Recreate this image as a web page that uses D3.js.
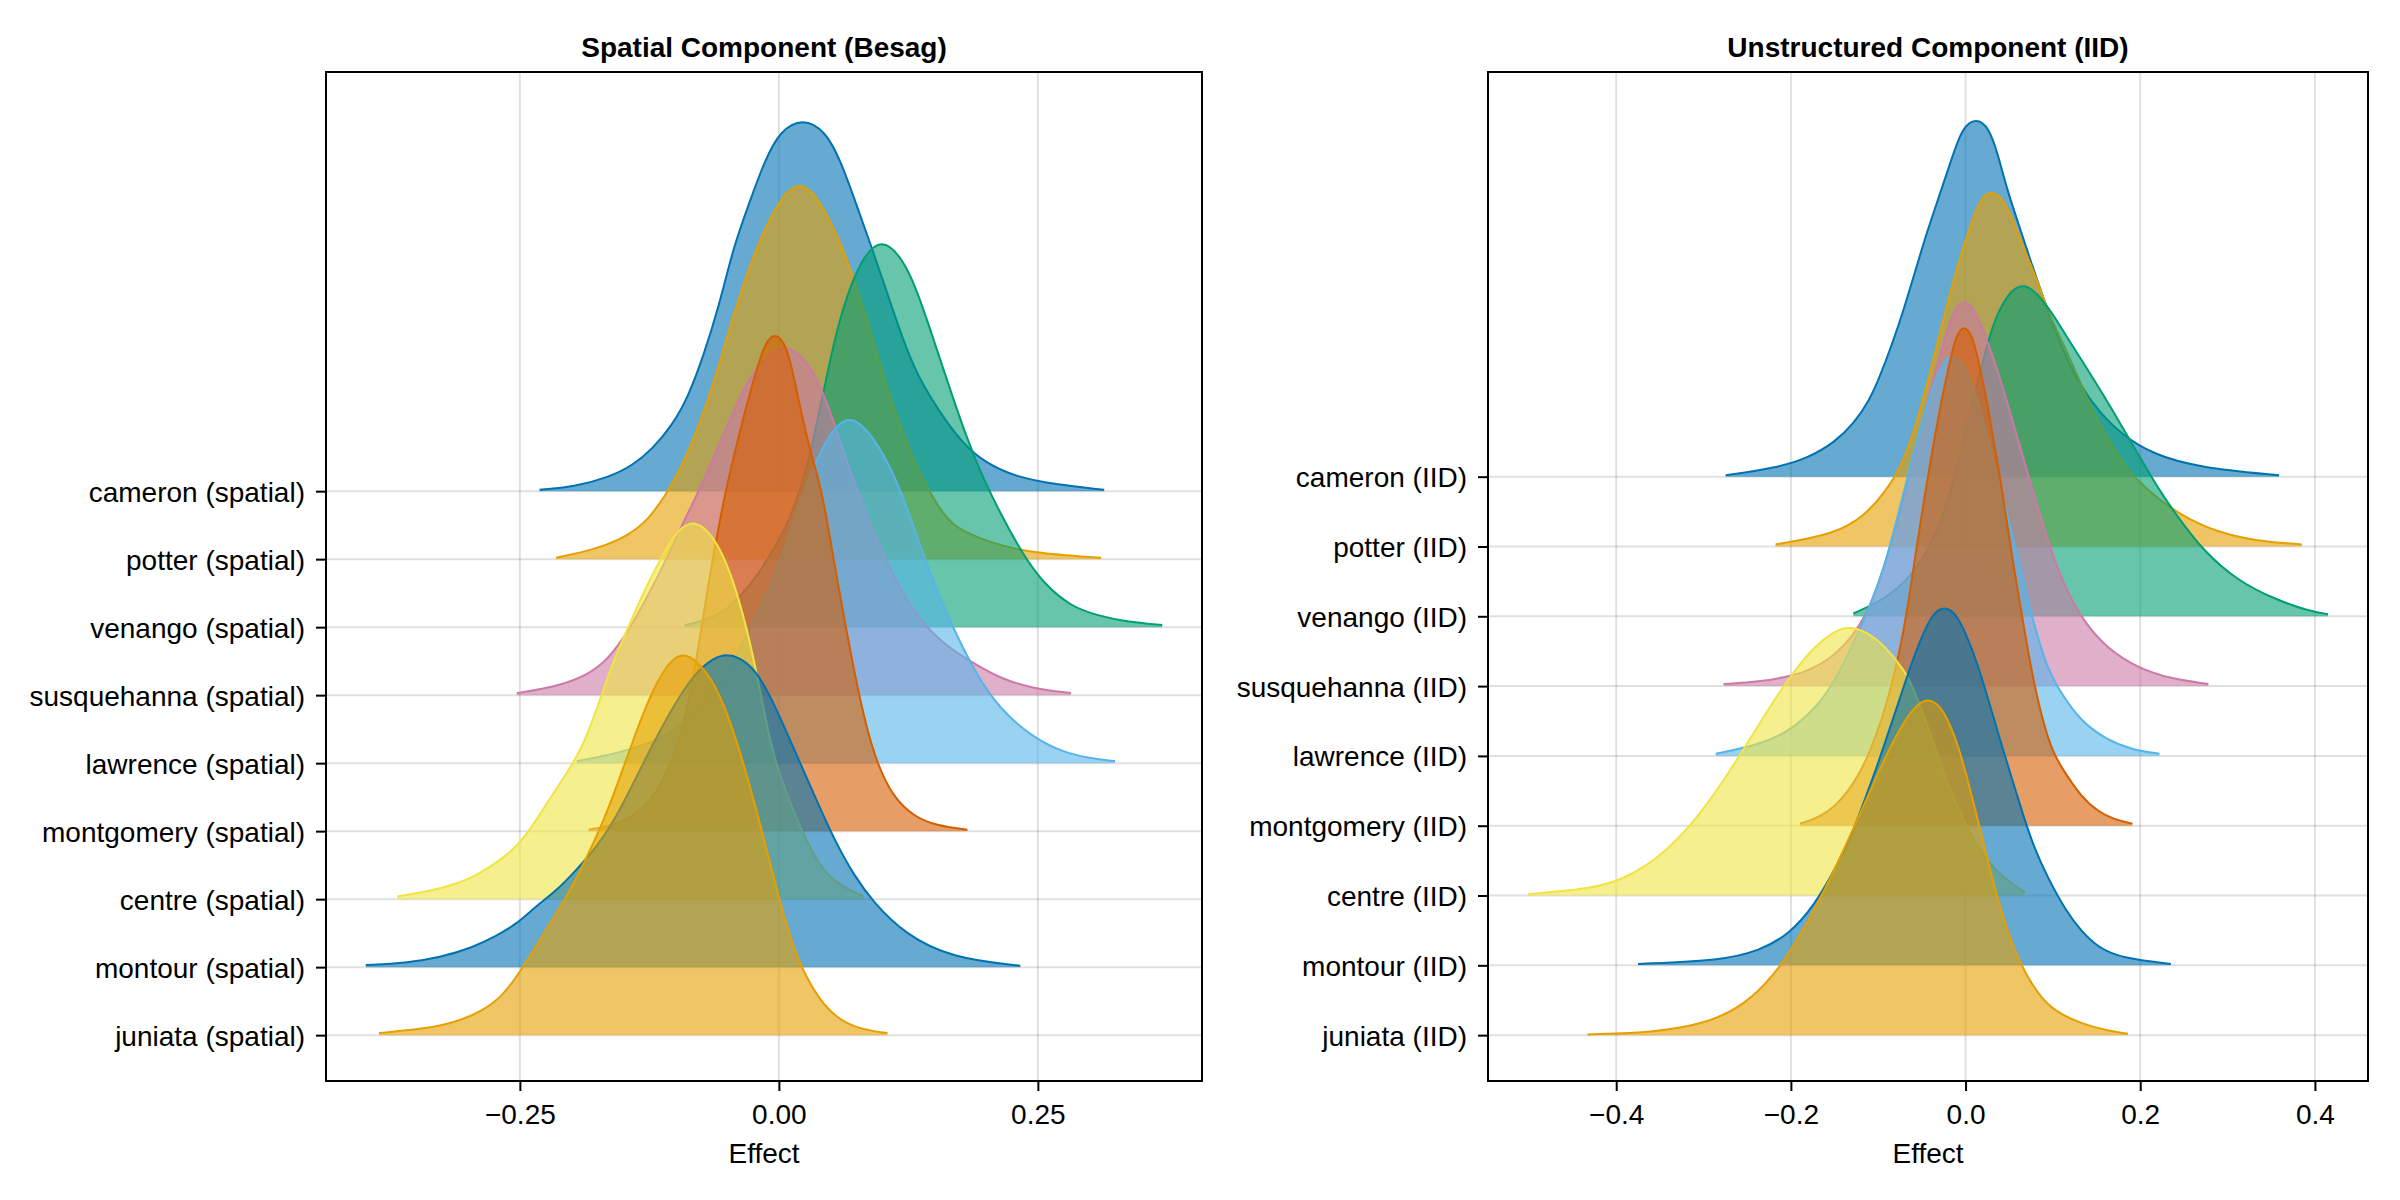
<!DOCTYPE html>
<html>
<head>
<meta charset="utf-8">
<script src="https://cdn.jsdelivr.net/npm/d3@7"></script>
<style>
  body { margin: 0; background: #fff; }
  text { font-family: "Liberation Sans", Arial, Helvetica, sans-serif; }
</style>
</head>
<body>
<svg id="chart" width="2400" height="1200"></svg>
<script>
// Ridgeline of posterior marginals, spatial (Besag) and unstructured (IID) parts

// rows from top to bottom
var counties = ["cameron", "potter", "venango", "susquehanna", "lawrence",
                "montgomery", "centre", "montour", "juniata"];
var spatialLabels = counties.map(function(c) { return c + " (spatial)"; });
var iidLabels = counties.map(function(c) { return c + " (IID)"; });

var spatialTicks = [-0.25, 0, 0.25];
var spatialTickLabels = ["\u22120.25", "0.00", "0.25"];
var iidTicks = [-0.4, -0.2, 0, 0.2, 0.4];
var iidTickLabels = ["\u22120.4", "\u22120.2", "0.0", "0.2", "0.4"];

// density curves as [effect, height in row units]
var spCameron = [[-0.231,0.02],[-0.198,0.06],[-0.163,0.21],[-0.141,0.38],[-0.122,0.62],[-0.1025,0.98],[-0.0878,1.38],[-0.073,1.98],[-0.058,2.71],[-0.0435,3.61],[-0.0288,4.23],[-0.014,4.85],[0.001,5.30],[0.023,5.49],[0.045,5.30],[0.060,4.85],[0.0745,4.23],[0.089,3.61],[0.104,2.94],[0.119,2.26],[0.1335,1.70],[0.156,1.14],[0.178,0.69],[0.200,0.41],[0.229,0.21],[0.266,0.10],[0.314,0.02]];
var spPotter = [[-0.215,0.02],[-0.175,0.15],[-0.145,0.35],[-0.126,0.58],[-0.110,0.93],[-0.097,1.25],[-0.0745,2.05],[-0.058,2.83],[-0.0435,3.62],[-0.021,4.63],[0.0007,5.30],[0.020,5.58],[0.039,5.30],[0.061,4.63],[0.0835,3.62],[0.098,2.83],[0.1145,2.05],[0.137,1.19],[0.155,0.75],[0.168,0.47],[0.206,0.23],[0.244,0.09],[0.311,0.02]];
var spVenango = [[-0.091,0.03],[-0.061,0.13],[-0.038,0.42],[-0.015,0.88],[0.0076,1.47],[0.023,2.1],[0.034,2.8],[0.045,3.6],[0.056,4.4],[0.0745,5.29],[0.0988,5.80],[0.126,5.29],[0.1445,4.45],[0.163,3.60],[0.182,2.75],[0.198,2.16],[0.217,1.58],[0.236,1.06],[0.255,0.65],[0.282,0.30],[0.308,0.17],[0.335,0.08],[0.370,0.03]];
var spSusquehanna = [[-0.253,0.03],[-0.213,0.13],[-0.183,0.31],[-0.164,0.54],[-0.145,0.95],[-0.126,1.47],[-0.107,2.05],[-0.091,2.58],[-0.076,3.04],[-0.061,3.56],[-0.032,4.6],[-0.015,4.95],[0.0066,5.19],[0.030,4.88],[0.047,4.3],[0.062,3.6],[0.078,2.9],[0.094,2.3],[0.112,1.7],[0.13,1.24],[0.149,0.89],[0.168,0.66],[0.187,0.48],[0.213,0.25],[0.244,0.10],[0.282,0.03]];
var spLawrence = [[-0.195,0.03],[-0.15,0.16],[-0.107,0.39],[-0.075,0.8],[-0.05,1.32],[-0.03,1.9],[-0.01,2.54],[0.010,3.35],[0.028,4.17],[0.045,4.76],[0.067,5.18],[0.092,4.8],[0.114,4.17],[0.133,3.35],[0.152,2.54],[0.171,1.90],[0.19,1.32],[0.213,0.80],[0.244,0.39],[0.274,0.16],[0.30,0.07],[0.3245,0.03]];
var spMontgomery = [[-0.1836,0.02],[-0.16,0.08],[-0.14,0.22],[-0.12,0.51],[-0.104,0.98],[-0.092,1.56],[-0.081,2.37],[-0.0686,3.59],[-0.061,4.23],[-0.0533,4.87],[-0.040,5.75],[-0.025,6.61],[-0.014,7.17],[-0.0044,7.34],[0.008,7.17],[0.019,6.33],[0.030,5.6],[0.0419,4.99],[0.0514,4.12],[0.061,3.30],[0.0724,2.37],[0.0838,1.56],[0.0952,0.98],[0.110,0.51],[0.1295,0.22],[0.152,0.08],[0.182,0.02]];
var spCentre = [[-0.3685,0.04],[-0.3434,0.10],[-0.3177,0.19],[-0.2953,0.32],[-0.279,0.47],[-0.263,0.64],[-0.250,0.83],[-0.2375,1.08],[-0.2214,1.47],[-0.205,1.85],[-0.1905,2.2],[-0.175,2.82],[-0.16,3.5],[-0.1448,4.02],[-0.1295,4.55],[-0.114,5.01],[-0.099,5.42],[-0.0808,5.60],[-0.061,5.3],[-0.0457,4.78],[-0.0305,3.97],[-0.019,3.15],[-0.0076,2.22],[0.0076,1.52],[0.034,0.59],[0.053,0.24],[0.082,0.04]];
var spMontour = [[-0.3987,0.03],[-0.3595,0.06],[-0.3274,0.14],[-0.2953,0.29],[-0.2727,0.46],[-0.2535,0.63],[-0.2342,0.90],[-0.215,1.12],[-0.1973,1.40],[-0.175,1.78],[-0.156,2.23],[-0.137,2.81],[-0.118,3.39],[-0.099,3.91],[-0.0838,4.26],[-0.0686,4.49],[-0.0533,4.61],[-0.038,4.56],[-0.0229,4.38],[-0.0076,3.97],[0.0076,3.45],[0.0229,2.92],[0.038,2.40],[0.0533,1.88],[0.0724,1.35],[0.0914,0.95],[0.122,0.48],[0.1676,0.13],[0.233,0.02]];
var spJuniata = [[-0.386,0.03],[-0.3434,0.09],[-0.3113,0.19],[-0.2856,0.36],[-0.2664,0.58],[-0.2503,0.92],[-0.2342,1.31],[-0.2182,1.71],[-0.2021,2.10],[-0.186,2.6],[-0.170,3.12],[-0.155,3.72],[-0.137,4.50],[-0.122,5.07],[-0.1067,5.48],[-0.0933,5.63],[-0.078,5.5],[-0.061,5.15],[-0.0457,4.57],[-0.0305,3.81],[-0.0152,2.94],[0,2.01],[0.0152,1.20],[0.0343,0.62],[0.0533,0.27],[0.0762,0.09],[0.1048,0.03]];

var iidCameron = [[-0.2746,0.02],[-0.215,0.13],[-0.180,0.27],[-0.150,0.49],[-0.128,0.76],[-0.110,1.09],[-0.097,1.47],[-0.0838,1.91],[-0.0706,2.40],[-0.0575,2.95],[-0.0443,3.50],[-0.031,3.99],[-0.016,4.55],[-0.004,5.0],[0.012,5.14],[0.027,5.0],[0.037,4.62],[0.0478,4.10],[0.061,3.61],[0.074,3.11],[0.0873,2.62],[0.100,2.18],[0.1136,1.75],[0.131,1.31],[0.153,0.925],[0.179,0.60],[0.2145,0.32],[0.267,0.13],[0.359,0.02]];
var iidPotter = [[-0.2175,0.03],[-0.1496,0.175],[-0.1145,0.45],[-0.0925,0.78],[-0.075,1.11],[-0.0618,1.54],[-0.0487,2.09],[-0.0355,2.75],[-0.0224,3.40],[-0.0092,4.01],[0.004,4.55],[0.017,4.99],[0.029,5.10],[0.0434,4.99],[0.0566,4.61],[0.0697,4.17],[0.083,3.79],[0.096,3.30],[0.118,2.75],[0.14,2.09],[0.162,1.54],[0.185,1.11],[0.2057,0.83],[0.245,0.45],[0.289,0.20],[0.333,0.077],[0.385,0.03]];
var iidVenango = [[-0.1285,0.04],[-0.0925,0.24],[-0.0618,0.57],[-0.040,1.01],[-0.0224,1.55],[-0.0092,2.16],[0.004,2.87],[0.017,3.52],[0.030,4.13],[0.039,4.40],[0.052,4.67],[0.0667,4.77],[0.083,4.62],[0.1004,4.32],[0.1136,4.05],[0.1355,3.62],[0.1575,3.18],[0.179,2.72],[0.201,2.25],[0.223,1.78],[0.245,1.39],[0.2715,0.95],[0.311,0.51],[0.355,0.24],[0.392,0.08],[0.415,0.03]];
var iidSusquehanna = [[-0.277,0.03],[-0.237,0.055],[-0.183,0.18],[-0.1496,0.43],[-0.123,0.81],[-0.1057,1.25],[-0.0925,1.74],[-0.0794,2.29],[-0.0662,2.94],[-0.053,3.60],[-0.040,4.26],[-0.0268,4.86],[-0.0136,5.41],[-0.0018,5.54],[0.0105,5.41],[0.026,4.92],[0.0434,4.26],[0.061,3.49],[0.0785,2.73],[0.096,2.01],[0.1136,1.41],[0.1355,0.92],[0.162,0.54],[0.197,0.26],[0.2364,0.10],[0.278,0.03]];
var iidLawrence = [[-0.286,0.03],[-0.236,0.16],[-0.202,0.35],[-0.1726,0.67],[-0.151,1.04],[-0.130,1.57],[-0.109,2.15],[-0.092,2.75],[-0.0794,3.35],[-0.0662,4.0],[-0.053,4.65],[-0.040,5.20],[-0.0268,5.64],[-0.0158,5.75],[-0.0026,5.64],[0.0083,5.31],[0.0215,4.76],[0.0346,4.10],[0.048,3.45],[0.061,2.79],[0.074,2.08],[0.0917,1.31],[0.105,0.985],[0.131,0.50],[0.162,0.23],[0.19,0.09],[0.222,0.03]];
var iidMontgomery = [[-0.1896,0.03],[-0.164,0.13],[-0.139,0.40],[-0.1175,0.82],[-0.1005,1.35],[-0.088,1.85],[-0.076,2.45],[-0.065,3.22],[-0.056,4.0],[-0.0465,4.75],[-0.0377,5.4],[-0.029,6.0],[-0.020,6.53],[-0.0114,7.02],[-0.0018,7.18],[0.0083,7.02],[0.0171,6.53],[0.026,5.98],[0.0346,5.32],[0.0434,4.7],[0.052,3.95],[0.061,3.28],[0.070,2.6],[0.079,2.0],[0.0895,1.45],[0.1,1.05],[0.1116,0.8],[0.132,0.42],[0.152,0.2],[0.17,0.09],[0.191,0.03]];
var iidCentre = [[-0.501,0.02],[-0.427,0.10],[-0.393,0.23],[-0.3635,0.44],[-0.342,0.66],[-0.321,0.92],[-0.300,1.24],[-0.279,1.61],[-0.2575,2.03],[-0.236,2.46],[-0.215,2.88],[-0.194,3.25],[-0.1726,3.57],[-0.151,3.78],[-0.1345,3.86],[-0.113,3.78],[-0.092,3.57],[-0.071,3.25],[-0.058,2.93],[-0.041,2.35],[-0.024,1.71],[-0.003,1.08],[0.018,0.60],[0.0395,0.29],[0.068,0.04]];
var iidMontour = [[-0.375,0.02],[-0.279,0.07],[-0.236,0.21],[-0.202,0.44],[-0.1726,0.87],[-0.151,1.34],[-0.130,1.87],[-0.113,2.455],[-0.1005,2.88],[-0.088,3.35],[-0.075,3.83],[-0.0624,4.31],[-0.0496,4.73],[-0.037,5.05],[-0.0242,5.14],[-0.0115,5.05],[0.0013,4.73],[0.014,4.31],[0.0267,3.78],[0.039,3.25],[0.052,2.72],[0.065,2.19],[0.0776,1.71],[0.0946,1.24],[0.116,0.76],[0.132,0.50],[0.152,0.25],[0.18,0.10],[0.235,0.02]];
var iidJuniata = [[-0.4327,0.01],[-0.355,0.04],[-0.296,0.17],[-0.253,0.43],[-0.219,0.86],[-0.194,1.33],[-0.1726,1.81],[-0.151,2.34],[-0.130,2.92],[-0.109,3.50],[-0.092,3.98],[-0.075,4.40],[-0.058,4.72],[-0.0433,4.83],[-0.0284,4.72],[-0.0157,4.40],[-0.003,3.93],[0.0098,3.29],[0.0225,2.66],[0.035,2.02],[0.0479,1.49],[0.0607,1.07],[0.082,0.59],[0.103,0.33],[0.132,0.17],[0.16,0.07],[0.186,0.02]];

var spatialCurves = [spCameron, spPotter, spVenango, spSusquehanna, spLawrence,
                     spMontgomery, spCentre, spMontour, spJuniata];
var iidCurves = [iidCameron, iidPotter, iidVenango, iidSusquehanna, iidLawrence,
                 iidMontgomery, iidCentre, iidMontour, iidJuniata];

// Wong palette, cycled
var colors = ["#0072B2", "#E69F00", "#009E73", "#CC79A7", "#56B4E9",
              "#D55E00", "#F0E442", "#0072B2", "#E69F00"];

var svg = d3.select("#chart");
var plotTop = 72, plotBottom = 1081;

function drawPanel(opts) {
  var n = opts.labels.length;
  // row position: top row = n, bottom row = 1
  var pos = function(i) { return n - i; };

  var allX = [];
  opts.curves.forEach(function(c) { c.forEach(function(p) { allX.push(p[0]); }); });
  var xExt = d3.extent(allX);
  var xPad = (xExt[1] - xExt[0]) * 0.05;
  var yMax = d3.max(opts.curves, function(c, i) { return pos(i) + d3.max(c, function(p) { return p[1]; }); });
  var yPad = (yMax - 1) * 0.05;

  var x = d3.scaleLinear().domain([xExt[0] - xPad, xExt[1] + xPad]).range([opts.left, opts.right]);
  var y = d3.scaleLinear().domain([1 - yPad, yMax + yPad]).range([plotBottom, plotTop]);

  var g = svg.append("g");

  // grid
  var grid = g.append("g").attr("stroke", "rgba(0,0,0,0.12)").attr("stroke-width", 2);
  grid.selectAll("line.v").data(opts.ticks).enter().append("line")
    .attr("x1", function(d) { return x(d); }).attr("x2", function(d) { return x(d); })
    .attr("y1", plotTop).attr("y2", plotBottom);
  grid.selectAll("line.h").data(opts.labels).enter().append("line")
    .attr("y1", function(d, i) { return y(pos(i)); }).attr("y2", function(d, i) { return y(pos(i)); })
    .attr("x1", opts.left).attr("x2", opts.right);

  var area = function(base) {
    return d3.area()
      .x(function(p) { return x(p[0]); })
      .y0(y(base))
      .y1(function(p) { return y(base + p[1]); })
      .curve(d3.curveBasis);
  };
  var line = function(base) {
    return d3.line()
      .x(function(p) { return x(p[0]); })
      .y(function(p) { return y(base + p[1]); })
      .curve(d3.curveBasis);
  };

  // upper rows first, so lower rows sit on top
  opts.curves.forEach(function(c, i) {
    var ridge = g.append("g");
    ridge.append("path").attr("d", area(pos(i))(c))
      .attr("fill", colors[i]).attr("fill-opacity", 0.6);
    ridge.append("path").attr("d", line(pos(i))(c))
      .attr("fill", "none").attr("stroke", colors[i]).attr("stroke-width", 2);
  });

  // axes
  var xAxis = d3.axisBottom(x).tickValues(opts.ticks)
    .tickFormat(function(d, i) { return opts.tickLabels[i]; })
    .tickSize(10).tickPadding(13);
  var xg = g.append("g").attr("transform", "translate(0," + plotBottom + ")").call(xAxis);

  var yAxis = d3.axisLeft(y).tickValues(opts.labels.map(function(d, i) { return pos(i); }))
    .tickFormat(function(d) { return opts.labels[n - d]; })
    .tickSize(10).tickPadding(11);
  var yg = g.append("g").attr("transform", "translate(" + opts.left + ",0)").call(yAxis);

  [xg, yg].forEach(function(a) {
    a.select(".domain").remove();
    a.selectAll(".tick line").attr("stroke", "#000").attr("stroke-width", 2);
    a.selectAll(".tick text").attr("fill", "#000").style("font-size", "28px");
  });
  yg.selectAll(".tick text").attr("dy", "0.36em");

  // frame
  g.append("rect").attr("x", opts.left).attr("y", plotTop)
    .attr("width", opts.right - opts.left).attr("height", plotBottom - plotTop)
    .attr("fill", "none").attr("stroke", "#000").attr("stroke-width", 2);

  g.append("text").attr("x", (opts.left + opts.right) / 2).attr("y", 57)
    .attr("text-anchor", "middle").style("font-size", "28px").style("font-weight", "bold")
    .text(opts.title);

  g.append("text").attr("x", (opts.left + opts.right) / 2).attr("y", 1163)
    .attr("text-anchor", "middle").style("font-size", "28px")
    .text("Effect");
}

drawPanel({
  title: "Spatial Component (Besag)",
  labels: spatialLabels, curves: spatialCurves,
  ticks: spatialTicks, tickLabels: spatialTickLabels,
  left: 326, right: 1202
});

drawPanel({
  title: "Unstructured Component (IID)",
  labels: iidLabels, curves: iidCurves,
  ticks: iidTicks, tickLabels: iidTickLabels,
  left: 1488, right: 2368
});
</script>
</body>
</html>
